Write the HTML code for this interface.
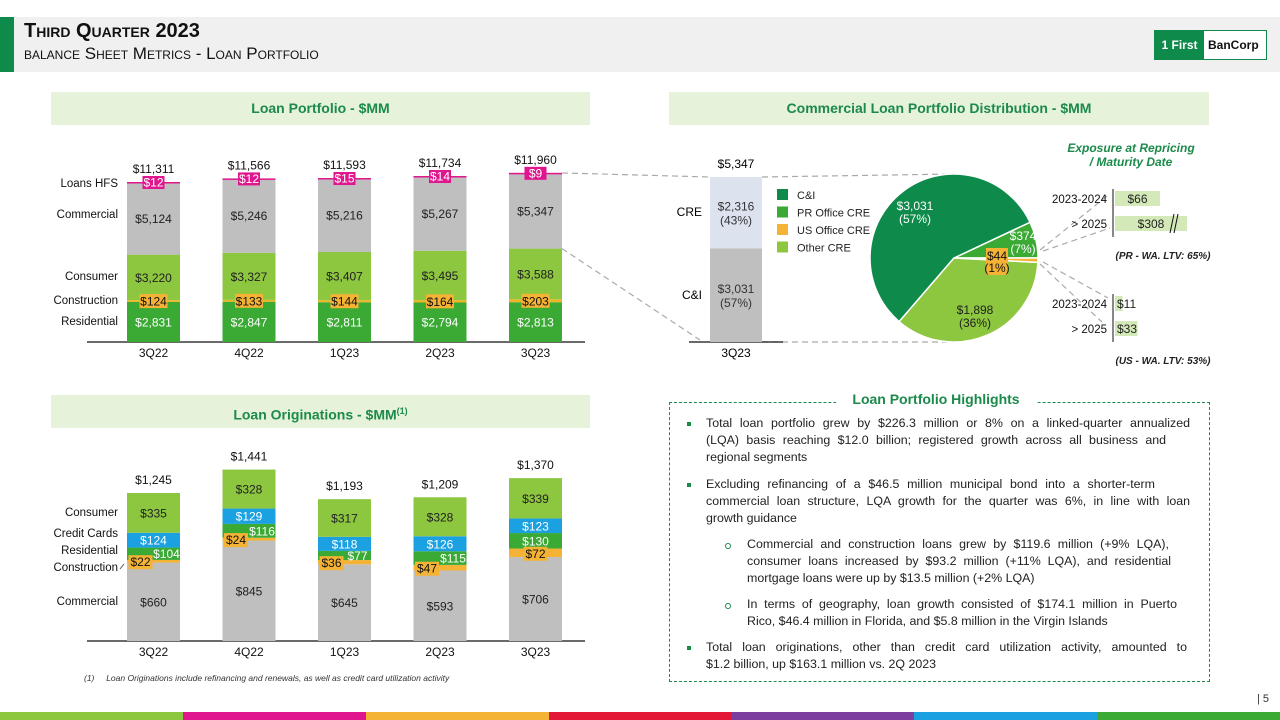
<!DOCTYPE html>
<html><head><meta charset="utf-8">
<style>
*{margin:0;padding:0;box-sizing:border-box}
body{width:1280px;height:720px;overflow:hidden;background:#fff;font-family:"Liberation Sans",sans-serif;position:relative;color:#222}
.abs{position:absolute}
.hdr{left:0;top:17px;width:1280px;height:55px;background:#f0f0f0}
.gbar{left:0;top:17px;width:14px;height:55px;background:#0e8a4a}
.t1{left:24px;top:20px;font-size:20px;font-weight:bold;font-variant:small-caps;color:#111}
.t2{left:24px;top:44px;font-size:17px;font-variant:small-caps;color:#111}
.ph{background:#e6f2da;color:#1b8a4a;font-weight:bold;font-size:14px;text-align:center;line-height:33px;height:33px}
.hl{left:669px;top:402px;width:541px;height:280px;border:1px dashed #1b8a4a}
.hlt{left:836px;top:391px;width:200px;text-align:center;background:#fff;color:#1b8a4a;font-weight:bold;font-size:14px}
.ln{position:absolute;font-size:12.4px;line-height:17px;text-align:justify;text-align-last:justify;white-space:nowrap;color:#222}
.ln.l{text-align-last:left}
.sq{position:absolute;width:4px;height:4px;background:#1b8a4a}
.ci{position:absolute;width:6px;height:6px;border:1px solid #1b8a4a;border-radius:50%}
</style></head><body>
<div class="abs hdr"></div>
<div class="abs gbar"></div>
<div class="abs t1">Third Quarter 2023</div>
<div class="abs t2">balance Sheet Metrics - Loan Portfolio</div>
<div class="abs" style="left:1154px;top:30px;width:113px;height:30px;border:1px solid #0e8a4a;background:#fff;display:flex;font-weight:bold;font-size:12px">
 <div style="background:#0e8a4a;color:#fff;width:49px;line-height:28px;text-align:center">1 First</div>
 <div style="color:#111;line-height:28px;padding-left:4px">BanCorp</div>
</div>

<div class="abs ph" style="left:51px;top:92px;width:539px">Loan Portfolio - $MM</div>
<div class="abs ph" style="left:669px;top:92px;width:540px">Commercial Loan Portfolio Distribution - $MM</div>
<div class="abs ph" style="left:51px;top:395px;width:539px">Loan Originations - $MM<sup style="font-size:9px">(1)</sup></div>

<svg class="abs" style="left:0;top:0" width="1280" height="720" id="chart" font-family="Liberation Sans, sans-serif"></svg>

<div class="abs hl"></div>
<div class="abs hlt">Loan Portfolio Highlights</div>
<div>
<div class="sq" style="left:687px;top:422px"></div>
<div class="ln" style="left:706px;top:415px;width:484px">Total loan portfolio grew by $226.3 million or 8% on a linked-quarter annualized</div>
<div class="ln" style="left:706px;top:432px;width:460px">(LQA) basis reaching $12.0 billion; registered growth across all business and</div>
<div class="ln l" style="left:706px;top:449px;width:460px">regional segments</div>
<div class="sq" style="left:687px;top:483px"></div>
<div class="ln" style="left:706px;top:476px;width:449px">Excluding refinancing of a $46.5 million municipal bond into a shorter-term</div>
<div class="ln" style="left:706px;top:493px;width:484px">commercial loan structure, LQA growth for the quarter was 6%, in line with loan</div>
<div class="ln l" style="left:706px;top:510px;width:400px">growth guidance</div>
<div class="ci" style="left:725px;top:543px"></div>
<div class="ln" style="left:747px;top:536px;width:422px">Commercial and construction loans grew by $119.6 million (+9% LQA),</div>
<div class="ln" style="left:747px;top:553px;width:424px">consumer loans increased by $93.2 million (+11% LQA), and residential</div>
<div class="ln l" style="left:747px;top:570px;width:400px">mortgage loans were up by $13.5 million (+2% LQA)</div>
<div class="ci" style="left:725px;top:603px"></div>
<div class="ln" style="left:747px;top:596px;width:430px">In terms of geography, loan growth consisted of $174.1 million in Puerto</div>
<div class="ln l" style="left:747px;top:613px;width:400px">Rico, $46.4 million in Florida, and $5.8 million in the Virgin Islands</div>
<div class="sq" style="left:687px;top:646px"></div>
<div class="ln" style="left:706px;top:639px;width:481px">Total loan originations, other than credit card utilization activity, amounted to</div>
<div class="ln l" style="left:706px;top:656px;width:400px">$1.2 billion, up $163.1 million vs. 2Q 2023</div>
</div>

<div class="abs" style="left:84px;top:673px;font-size:8.5px;font-style:italic;color:#333">(1)&nbsp;&nbsp;&nbsp;&nbsp;&nbsp;Loan Originations include refinancing and renewals, as well as credit card utilization activity</div>
<div class="abs" style="left:1257px;top:693px;font-size:11px;color:#333">| 5</div>
<div class="abs" style="left:0;top:712px;width:1280px;height:8px;display:flex">
 <div style="flex:1;background:#8dc63f"></div><div style="flex:1;background:#e0168f"></div><div style="flex:1;background:#f5b335"></div><div style="flex:1;background:#e31837"></div><div style="flex:1;background:#7b3fa0"></div><div style="flex:1;background:#1ba1e2"></div><div style="flex:1;background:#3aaa35"></div>
</div>

<script>
// ---- Loan portfolio data
const quarters = ["3Q22","4Q22","1Q23","2Q23","3Q23"];
const lpResidential = [2831,2847,2811,2794,2813];
const lpConstruction = [124,133,144,164,203];
const lpConsumer = [3220,3327,3407,3495,3588];
const lpCommercial = [5124,5246,5216,5267,5347];
const lpHfs = [12,12,15,14,9];
const lpTotals = [11311,11566,11593,11734,11960];
// ---- Originations data
const orCommercial = [660,845,645,593,706];
const orConstruction = [22,24,36,47,72];
const orResidential = [104,116,77,115,130];
const orCards = [124,129,118,126,123];
const orConsumer = [335,328,317,328,339];
const orTotals = [1245,1441,1193,1209,1370];
// ---- Commercial distribution
const ciValue = 3031, creValue = 2316, commTotal = 5347;
const pieLabels = ["PR Office CRE","C&I","Other CRE","US Office CRE"];
const pieValues = [374,3031,1898,44];
const piePct = ["7%","57%","36%","1%"];
const prExposure = [66,308];
const usExposure = [11,33];
const exposureCats = ["2023-2024","> 2025"];

const svg = document.getElementById('chart');
const NS = 'http://www.w3.org/2000/svg';
function mk(tag, at, txt){const e=document.createElementNS(NS,tag);for(const k in at)e.setAttribute(k,at[k]);if(txt!==undefined)e.textContent=txt;svg.appendChild(e);return e;}
function fmt(v){return '$'+v.toLocaleString('en-US');}
const xC = i => 153.5 + i*95.5;
const BW = 53;
const later = [];

// ---- Top chart
const yT = v => 342 - v*160/11311;
const hT = v => v*160/11311;
mk('line',{x1:87,y1:342,x2:585,y2:342,stroke:'#111','stroke-width':1.3});
const segsT = [[lpResidential,'#3aaa35','residential'],[lpConstruction,'#f0b323','construction'],[lpConsumer,'#8dc63f','consumer'],[lpCommercial,'#bfbfbf','commercial'],[lpHfs,'#e0168f','loans-hfs']];
quarters.forEach((q,i)=>{
  let base=0;
  segsT.forEach(([arr,col,nm])=>{
    const v=arr[i];
    const r=mk('rect',{x:xC(i)-BW/2,y:yT(base+v),width:BW,height:Math.max(hT(v),1.5),fill:col});
    
    
    const mid=yT(base+v/2), top=yT(base+v);
    later.push(()=>{
      if(nm==='construction'){
        mk('rect',{x:xC(i)-14,y:mid-7,width:28,height:14,fill:'#f5b335'});
        mk('text',{x:xC(i),y:mid+4.5,'text-anchor':'middle','font-size':12,fill:'#111'},fmt(v));
      } else if(nm==='loans-hfs'){
        mk('rect',{x:xC(i)-11,y:top-6,width:22,height:13,fill:'#e0168f'});
        mk('text',{x:xC(i),y:top+4.5,'text-anchor':'middle','font-size':12,fill:'#fff'},fmt(v));
      } else {
        mk('text',{x:xC(i),y:mid+4.5,'text-anchor':'middle','font-size':12,fill:nm==='residential'?'#fff':'#222'},fmt(v));
      }
    });
    base+=v;
  });
  mk('text',{x:xC(i),y:yT(lpTotals[i])-9,'text-anchor':'middle','font-size':12,fill:'#111'},fmt(lpTotals[i]));
  mk('text',{x:xC(i),y:357,'text-anchor':'middle','font-size':12,fill:'#111'},q);
});
later.forEach(f=>f()); later.length=0;
[['Loans HFS',187],['Commercial',218],['Consumer',280],['Construction',304],['Residential',325]].forEach(([t,y])=>mk('text',{x:118,y:y,'text-anchor':'end','font-size':11.5,fill:'#111'},t));

// ---- Connectors
const dash={stroke:'#aaa','stroke-width':1.2,'stroke-dasharray':'6,4',fill:'none'};
const rTop=342-(ciValue+creValue)*165/commTotal, rMid=342-ciValue*165/commTotal;
mk('line',Object.assign({x1:xC(4)+BW/2,y1:yT(lpTotals[4]-lpHfs[4]),x2:710,y2:rTop},dash));
mk('line',Object.assign({x1:xC(4)+BW/2,y1:yT(lpResidential[4]+lpConstruction[4]+lpConsumer[4]),x2:700,y2:340},dash));
mk('line',Object.assign({x1:762,y1:rTop,x2:954,y2:174},dash));
mk('line',Object.assign({x1:762,y1:342,x2:954,y2:342},dash));

// ---- Commercial bar
mk('line',{x1:689,y1:342,x2:783,y2:342,stroke:'#111','stroke-width':1.3});
let r1=mk('rect',{x:710,y:rMid,width:52,height:342-rMid,fill:'#bfbfbf'});


let r2=mk('rect',{x:710,y:rTop,width:52,height:rMid-rTop,fill:'#dce3ef'});


mk('text',{x:736,y:rTop-9,'text-anchor':'middle','font-size':12},fmt(commTotal));
mk('text',{x:736,y:(rTop+rMid)/2-2,'text-anchor':'middle','font-size':12,fill:'#333'},fmt(creValue));
mk('text',{x:736,y:(rTop+rMid)/2+12,'text-anchor':'middle','font-size':12,fill:'#333'},'('+Math.round(creValue/commTotal*100)+'%)');
mk('text',{x:736,y:(rMid+342)/2-2,'text-anchor':'middle','font-size':12,fill:'#333'},fmt(ciValue));
mk('text',{x:736,y:(rMid+342)/2+12,'text-anchor':'middle','font-size':12,fill:'#333'},'('+Math.round(ciValue/commTotal*100)+'%)');
mk('text',{x:702,y:216,'text-anchor':'end','font-size':12},'CRE');
mk('text',{x:702,y:299,'text-anchor':'end','font-size':12},'C&I');
mk('text',{x:736,y:357,'text-anchor':'middle','font-size':12},'3Q23');
// legend
[['C&I','#0e8a4a'],['PR Office CRE','#3aaa35'],['US Office CRE','#f5b335'],['Other CRE','#8dc63f']].forEach(([t,c],k)=>{
  mk('rect',{x:777,y:189+k*17.5,width:11,height:11,fill:c});
  mk('text',{x:797,y:199+k*17.5,'font-size':11,fill:'#222'},t);
});
// pie
const pcx=954, pcy=258, pr=84;
const pieCols=['#3aaa35','#0e8a4a','#8dc63f','#f5b335'];
const pieSum=pieValues.reduce((a,b)=>a+b,0);
let ang=0;
pieValues.forEach((v,k)=>{
  const a0=ang, a1=ang+v/pieSum*2*Math.PI; ang=a1;
  const x0=pcx+pr*Math.cos(a0), y0=pcy-pr*Math.sin(a0), x1=pcx+pr*Math.cos(a1), y1=pcy-pr*Math.sin(a1);
  const p=mk('path',{d:`M${pcx},${pcy} L${x0},${y0} A${pr},${pr} 0 ${a1-a0>Math.PI?1:0} 0 ${x1},${y1} Z`,fill:pieCols[k],stroke:'#fff','stroke-width':1.5});
  
  
});
mk('text',{x:915,y:210,'text-anchor':'middle','font-size':12,fill:'#fff'},fmt(pieValues[1]));
mk('text',{x:915,y:223,'text-anchor':'middle','font-size':12,fill:'#fff'},'('+piePct[1]+')');
mk('text',{x:1023,y:240,'text-anchor':'middle','font-size':12,fill:'#fff'},fmt(pieValues[0]));
mk('text',{x:1023,y:253,'text-anchor':'middle','font-size':12,fill:'#fff'},'('+piePct[0]+')');
mk('rect',{x:986,y:248,width:22,height:27,fill:'#f5b335'});
mk('text',{x:997,y:260,'text-anchor':'middle','font-size':12,fill:'#111'},fmt(pieValues[3]));
mk('text',{x:997,y:272,'text-anchor':'middle','font-size':12,fill:'#111'},'('+piePct[3]+')');
mk('text',{x:975,y:314,'text-anchor':'middle','font-size':12,fill:'#222'},fmt(pieValues[2]));
mk('text',{x:975,y:327,'text-anchor':'middle','font-size':12,fill:'#222'},'('+piePct[2]+')');
// exposure
mk('text',{x:1131,y:152,'text-anchor':'middle','font-size':12,'font-style':'italic','font-weight':'bold',fill:'#1b8a4a'},'Exposure at Repricing');
mk('text',{x:1131,y:166,'text-anchor':'middle','font-size':12,'font-style':'italic','font-weight':'bold',fill:'#1b8a4a'},'/ Maturity Date');
mk('line',Object.assign({x1:1040,y1:250,x2:1107,y2:196},dash));
mk('line',Object.assign({x1:1043,y1:251,x2:1110,y2:228},dash));
mk('line',Object.assign({x1:1043,y1:262,x2:1108,y2:298},dash));
mk('line',Object.assign({x1:1040,y1:264,x2:1102,y2:322},dash));
const xE = v => v*45/66;
function expo(arr,y0,lbl,cap){
  mk('line',{x1:1113,y1:y0,x2:1113,y2:y0+48,stroke:'#111','stroke-width':1});
  arr.forEach((v,k)=>{
    const y=y0+2+k*25; const w=Math.min(xE(v),72);
    const b=mk('rect',{x:1115,y:y,width:w,height:15,fill:'#d3e9b8'});
    
    
    mk('text',{x:1115+(w<25?2:w/2),y:y+12,'text-anchor':w<25?'start':'middle','font-size':12,fill:'#222'},fmt(v));
    mk('text',{x:1107,y:y+12,'text-anchor':'end','font-size':11.5,fill:'#111'},exposureCats[k]);
    if(xE(v)>72){mk('line',{x1:1170,y1:y+17,x2:1174,y2:y-2,stroke:'#111'});mk('line',{x1:1174,y1:y+17,x2:1178,y2:y-2,stroke:'#111'});}
  });
  mk('text',{x:1163,y:y0+70,'text-anchor':'middle','font-size':10,'font-style':'italic','font-weight':'bold',fill:'#222'},cap);
}
expo(prExposure,189,'pr','(PR - WA. LTV: 65%)');
expo(usExposure,294,'us','(US - WA. LTV: 53%)');

// ---- Originations chart
const yB = v => 641 - v*148/1245;
const hB = v => v*148/1245;
mk('line',{x1:87,y1:641,x2:585,y2:641,stroke:'#111','stroke-width':1.3});
const segsB=[[orCommercial,'#bfbfbf','commercial'],[orConstruction,'#f5b335','construction'],[orResidential,'#3aaa35','residential'],[orCards,'#1ba1e2','credit-cards'],[orConsumer,'#8dc63f','consumer']];
const lblOff=[13,13,13,13,0];
quarters.forEach((q,i)=>{
  let base=0;
  segsB.forEach(([arr,col,nm])=>{
    const v=arr[i];
    const r=mk('rect',{x:xC(i)-BW/2,y:yB(base+v),width:BW,height:hB(v),fill:col});
    
    
    const mid=yB(base+v/2);
    later.push(()=>{
      if(nm==='construction'){
        const cx=xC(i)-lblOff[i];
        mk('rect',{x:cx-12,y:mid-6,width:24,height:14,fill:'#f5b335'});
        mk('text',{x:cx,y:mid+5,'text-anchor':'middle','font-size':12,fill:'#111'},fmt(v));
      } else if(nm==='residential'){
        mk('text',{x:xC(i)+lblOff[i],y:mid+4.5,'text-anchor':'middle','font-size':12,fill:'#fff'},fmt(v));
      } else {
        mk('text',{x:xC(i),y:mid+4.5,'text-anchor':'middle','font-size':12,fill:nm==='credit-cards'?'#fff':'#222'},fmt(v));
      }
    });
    base+=v;
  });
  mk('text',{x:xC(i),y:yB(orTotals[i])-9,'text-anchor':'middle','font-size':12,fill:'#111'},fmt(orTotals[i]));
  mk('text',{x:xC(i),y:656,'text-anchor':'middle','font-size':12,fill:'#111'},q);
});
later.forEach(f=>f()); later.length=0;
[['Consumer',516],['Credit Cards',537],['Residential',554],['Construction',571],['Commercial',605]].forEach(([t,y])=>mk('text',{x:118,y:y,'text-anchor':'end','font-size':11.5,fill:'#111'},t));
mk('line',{x1:120,y1:569,x2:124,y2:564,stroke:'#555'});
</script>
</body></html>
